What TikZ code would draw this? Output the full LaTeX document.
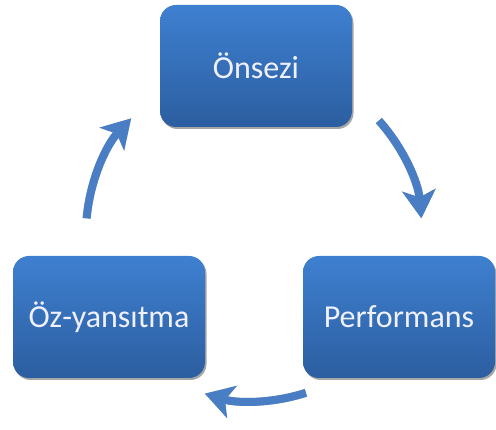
\documentclass[tikz,border=0pt]{standalone}
\usepackage{fontspec}
\setmainfont{Carlito}
\usetikzlibrary{arrows.meta,shadows}
\definecolor{boxtop}{RGB}{62,128,208}
\definecolor{boxbot}{RGB}{44,94,160}
\definecolor{arr}{RGB}{74,126,196}
\tikzset{
  stepbox/.style={rounded corners=16pt, minimum width=192pt, minimum height=122pt,
    inner sep=0pt, top color=boxtop, bottom color=boxbot, text=white!94!blue,
    font=\fontsize{32}{37}\selectfont,
    drop shadow={shadow xshift=1.5pt, shadow yshift=-2pt, fill=black, opacity=0.35}},
  cyctip/.style={-{Stealth[length=28pt,width=33pt,inset=7pt]}},
  cyc/.style={draw=arr, line width=8pt, cyctip},
  cycshade/.style={draw=black, opacity=0.3, line width=8pt, cyctip}
}
\begin{document}
\begin{tikzpicture}[x=1pt,y=1pt]
\useasboundingbox (0,0) rectangle (496,430);
\node[stepbox] (ons) at (256,364) {Önsezi};
\node[stepbox] (oz) at (109,113) {Öz-yansıtma};
\node[stepbox] (perf) at (399,113) {Performans};
\coordinate (c) at (254,197);
\begin{scope}[shift={(1.5,-1.5)}]
  \draw[cycshade] ([shift={(175:168)}]c) arc[start angle=175,end angle=137,radius=168];
  \draw[cycshade] ([shift={(42:168)}]c) arc[start angle=42,end angle=5,radius=168];
  \draw[cycshade] ([shift={(288:168)}]c) arc[start angle=288,end angle=253,radius=168];
\end{scope}
\draw[cyc] ([shift={(175:168)}]c) arc[start angle=175,end angle=137,radius=168];
\draw[cyc] ([shift={(42:168)}]c) arc[start angle=42,end angle=5,radius=168];
\draw[cyc] ([shift={(288:168)}]c) arc[start angle=288,end angle=253,radius=168];
\end{tikzpicture}
\end{document}
